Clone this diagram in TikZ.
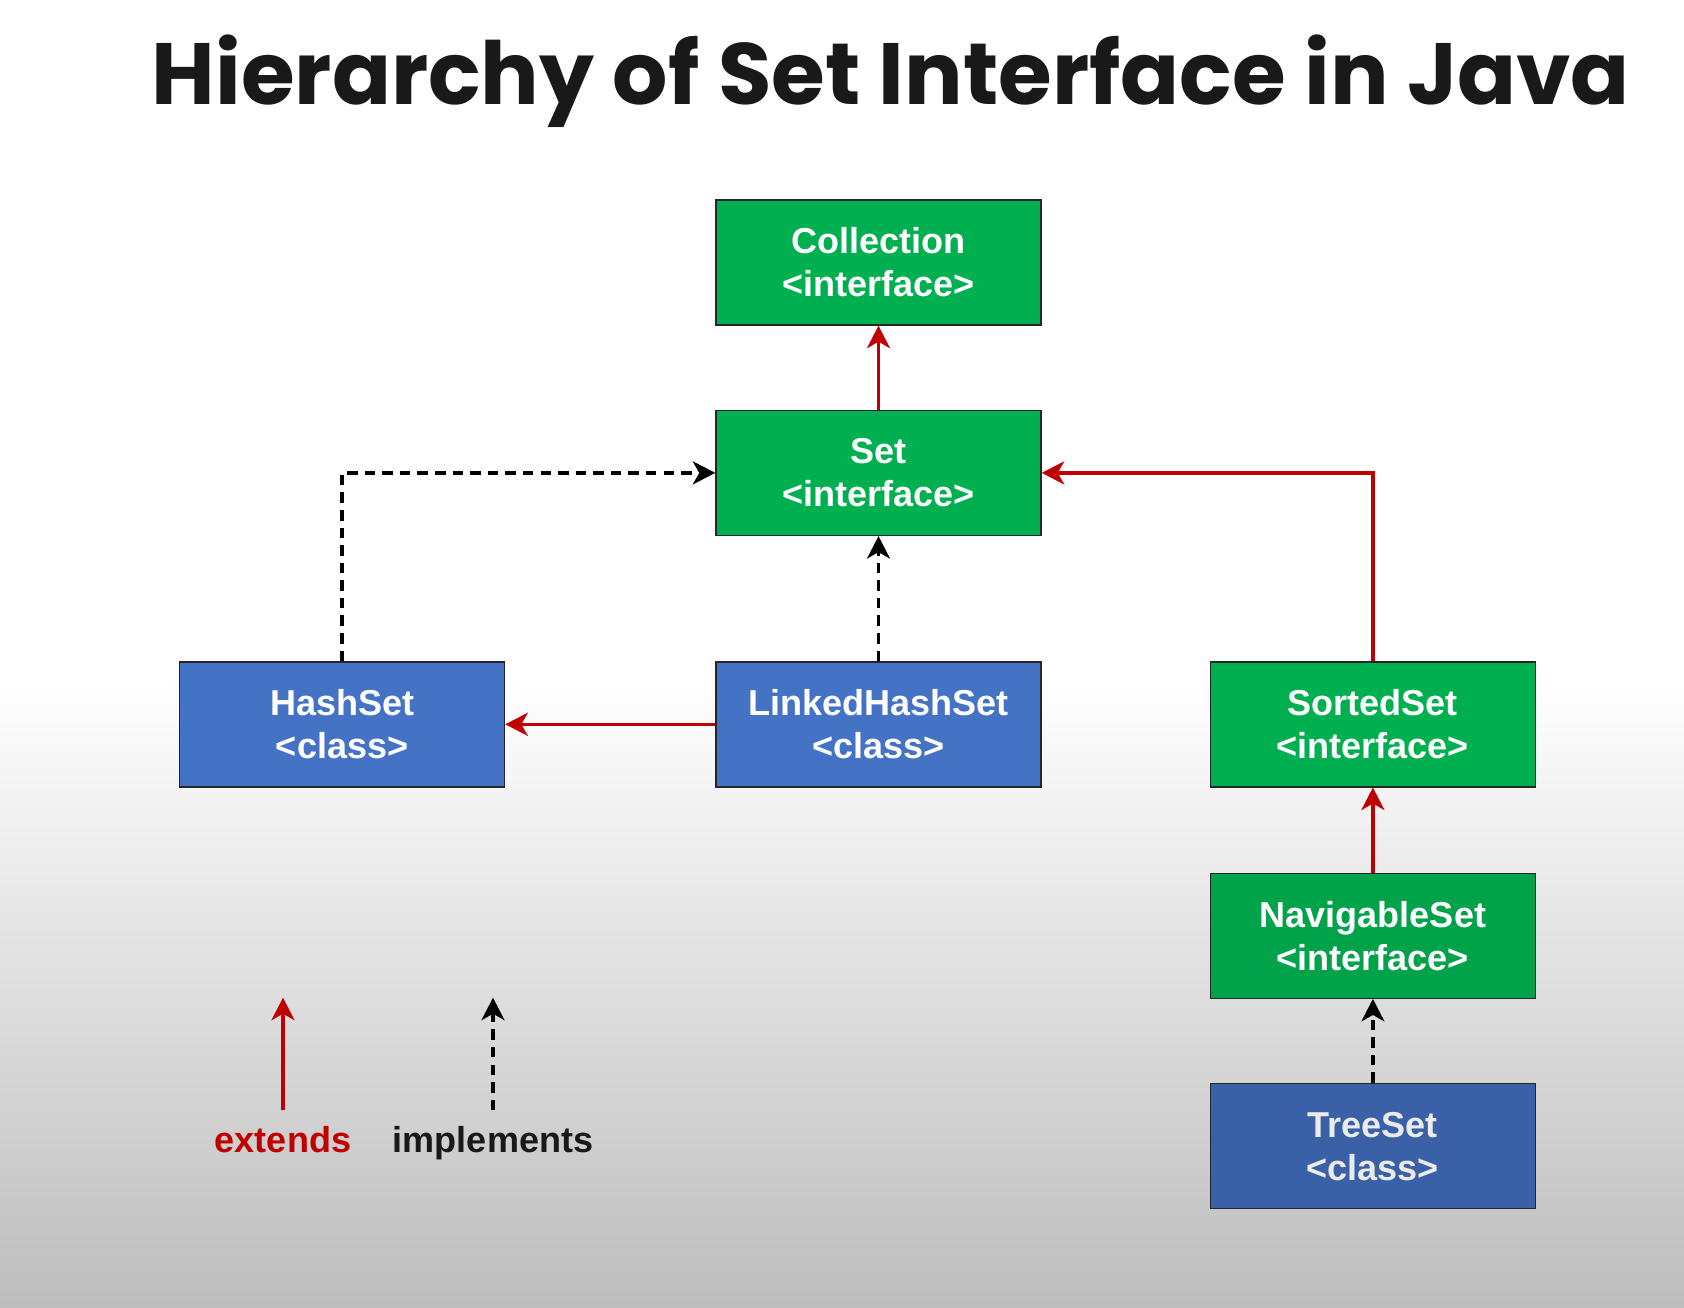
\documentclass[tikz,border=0pt]{standalone}
\usepackage{fontspec}
\setmainfont{Liberation Sans}
\newfontfamily\titlefont{Poppins}
\usetikzlibrary{arrows.meta,positioning}
\definecolor{ifacegreen}{HTML}{00B050}
\definecolor{classblue}{HTML}{4472C4}
\definecolor{extred}{HTML}{C00000}
\newcommand{\boxfont}{\fontsize{20.5}{24.5}\selectfont\bfseries}
\newcommand{\headfont}{\fontsize{49.5}{56}\selectfont\bfseries}

\begin{document}
\begin{tikzpicture}[
  node distance=1.68cm and 3.36cm,
  every node/.style={font=\boxfont},
  umlbox/.style={draw=black!85,line width=0.8pt,minimum width=6.5cm,minimum height=2.5cm,align=center,text=white},
  iface/.style={umlbox,fill=ifacegreen},
  klass/.style={umlbox,fill=classblue},
  extends/.style={-{Stealth[length=4.5mm,width=4.6mm,inset=1.3mm]},draw=extred,line width=2pt},
  implements/.style={-{Stealth[length=4.5mm,width=4.6mm,inset=1.3mm]},line width=2pt,dash pattern=on 6pt off 4pt}
]
% background
\useasboundingbox (0,0) rectangle (33.68,-26.16);
\fill[white] (0,0) rectangle (33.68,-13.6);
\shade[top color=white,bottom color=black!26] (0,-13.6) rectangle (33.68,-26.16);

\node[font=\titlefont\headfont,text=black!90] (title) at (17.82,-1.62) {Hierarchy of Set Interface in Java};

% hierarchy
\node[iface] (coll) at (17.57,-5.25) {Collection\\<interface>};
\node[iface,below=of coll] (set) {Set\\<interface>};
\node[klass,below=2.5cm of set] (lhs) {LinkedHashSet\\<class>};
\node[klass,left=4.2cm of lhs] (hash) {HashSet\\<class>};
\node[iface,right=of lhs] (sorted) {SortedSet\\<interface>};
\node[iface,below=1.7cm of sorted,fill=ifacegreen!92!black] (nav) {NavigableSet\\<interface>};
\node[klass,below=of nav,fill=classblue!85!black,text=black!8] (tree) {TreeSet\\<class>};

\draw[extends] (set) -- (coll);
\draw[implements] (hash.north) |- (set.west);
\draw[implements] (lhs) -- (set);
\draw[extends] (lhs) -- (hash);
\draw[extends] (sorted.north) |- (set.east);
\draw[extends] (nav) -- (sorted);
\draw[implements] (tree) -- (nav);

% legend
\node[text=extred,anchor=base] (extlbl) at (5.66,-23.05) {extends};
\node[text=black!90,anchor=base] (implbl) at (9.86,-23.05) {implements};
\coordinate (exttip) at ([yshift=2.45cm]extlbl.north);
\coordinate (imptip) at ([yshift=2.45cm]implbl.north);
\draw[extends] ([yshift=2mm]extlbl.north) -- (exttip);
\draw[implements] ([yshift=2mm]implbl.north) -- (imptip);
\end{tikzpicture}
\end{document}
